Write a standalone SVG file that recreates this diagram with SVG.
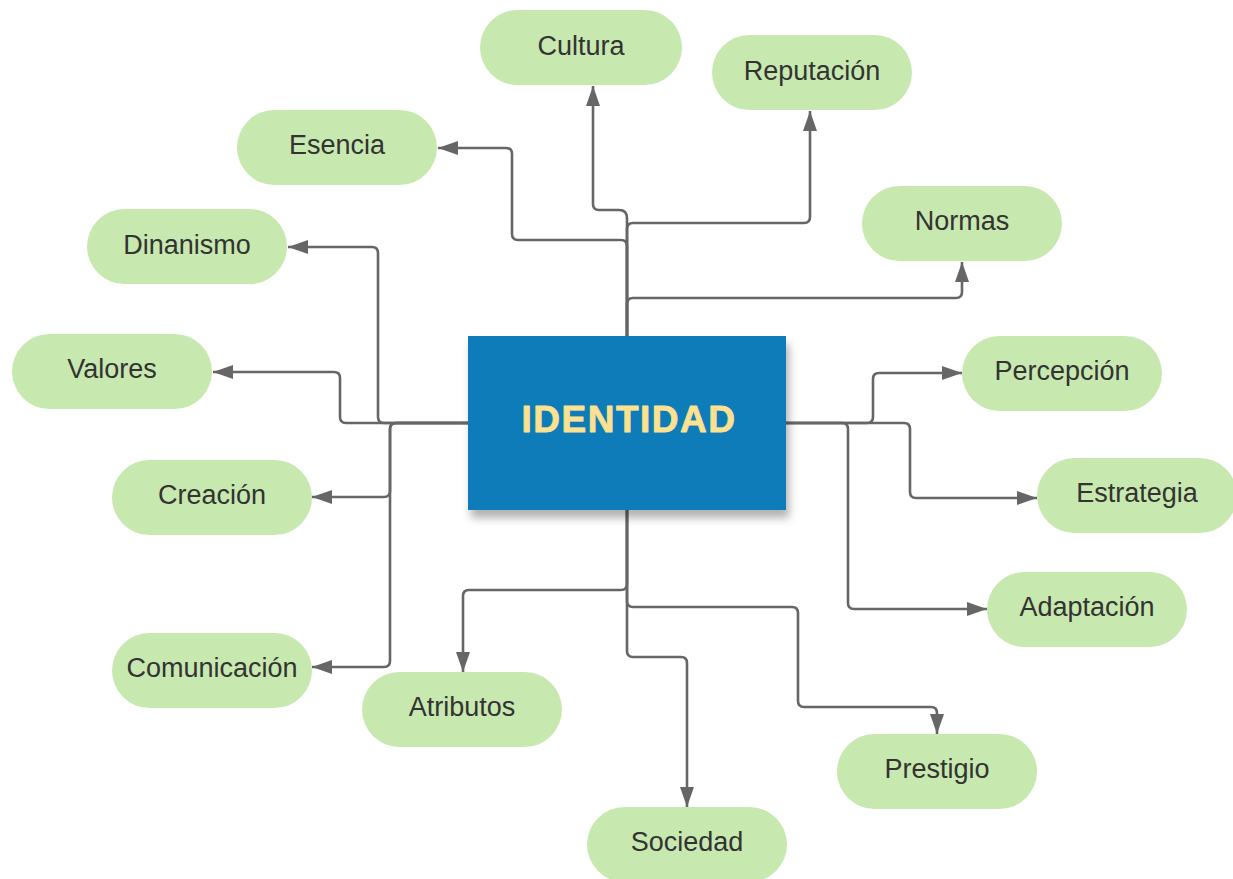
<svg xmlns="http://www.w3.org/2000/svg" width="1233" height="879" viewBox="0 0 1233 879">
  <style>
    .pill { fill: #C7E8AE; }
    .lbl { font-family: "Liberation Sans", Arial, sans-serif; font-size: 27px; fill: #333333; text-anchor: middle; }
    .conn { fill: none; stroke: #666666; stroke-width: 2.6; stroke-linejoin: round; marker-end: url(#arrow); }
    .core { fill: #0E7BB8; }
    .core-lbl { font-family: "Liberation Sans", Arial, sans-serif; font-weight: bold; font-size: 37px; fill: #FBE190; stroke: #FBE190; stroke-width: 0.8; stroke-linejoin: round; text-anchor: middle; letter-spacing: 1.5px; }
  </style>
  <defs>
    <marker id="arrow" markerUnits="userSpaceOnUse" markerWidth="22" markerHeight="16" refX="20" refY="7" orient="auto">
      <path d="M0,0 L20,7 L0,14 Z" fill="#666666"/>
    </marker>
    <filter id="shadow" x="-10%" y="-10%" width="125%" height="140%">
      <feDropShadow dx="3" dy="8" stdDeviation="4" flood-color="#000000" flood-opacity="0.3"/>
    </filter>
  </defs>
  <rect width="1233" height="879" fill="#FFFFFF"/>

  <g id="connectors">
    <!-- upward branches -->
    <path class="conn" d="M627,336 V218 Q627,210 619,210 H599 Q593,210 593,204 V86"/>
    <path class="conn" d="M627,336 V229 Q627,223 633,223 H804 Q810,223 810,217 V111"/>
    <path class="conn" d="M627,336 V246 Q627,240 621,240 H518 Q512,240 512,234 V154 Q512,148 506,148 H438"/>
    <path class="conn" d="M627,336 V304 Q627,298 633,298 H956 Q962,298 962,292 V262"/>
    <!-- left branches -->
    <path class="conn" d="M468,423 H384 Q378,423 378,417 V253 Q378,247 372,247 H288"/>
    <path class="conn" d="M468,423 H346 Q340,423 340,417 V378 Q340,372 334,372 H213"/>
    <path class="conn" d="M468,423 H396 Q390,423 390,429 V491 Q390,497 384,497 H312"/>
    <path class="conn" d="M468,423 H396 Q390,423 390,429 V661 Q390,667 384,667 H312"/>
    <!-- downward branches -->
    <path class="conn" d="M627,510 V584 Q627,590 621,590 H469 Q463,590 463,596 V672"/>
    <path class="conn" d="M627,510 V651 Q627,657 633,657 H681 Q687,657 687,663 V807"/>
    <path class="conn" d="M627,510 V601 Q627,607 633,607 H792 Q798,607 798,613 V701 Q798,707 804,707 H931 Q937,707 937,713 V734"/>
    <!-- right branches -->
    <path class="conn" d="M786,423 H867 Q873,423 873,417 V379 Q873,373 879,373 H962"/>
    <path class="conn" d="M786,423 H904 Q910,423 910,429 V492 Q910,498 916,498 H1037"/>
    <path class="conn" d="M786,423 H842 Q848,423 848,429 V603 Q848,609 854,609 H987"/>
  </g>

  <g id="identidad">
    <rect class="core" x="468" y="336" width="318" height="174" filter="url(#shadow)"/>
    <text class="core-lbl" x="629" y="432">IDENTIDAD</text>
  </g>

  <g id="cultura"><rect class="pill" x="480" y="10" width="202" height="75" rx="37.5"/><text class="lbl" x="581" y="55">Cultura</text></g>
  <g id="reputacion"><rect class="pill" x="712" y="35" width="200" height="75" rx="37.5"/><text class="lbl" x="812" y="80">Reputación</text></g>
  <g id="normas"><rect class="pill" x="862" y="186" width="200" height="75" rx="37.5"/><text class="lbl" x="962" y="230">Normas</text></g>
  <g id="percepcion"><rect class="pill" x="962" y="336" width="200" height="75" rx="37.5"/><text class="lbl" x="1062" y="380">Percepción</text></g>
  <g id="estrategia"><rect class="pill" x="1037" y="458" width="200" height="75" rx="37.5"/><text class="lbl" x="1137" y="502">Estrategia</text></g>
  <g id="adaptacion"><rect class="pill" x="987" y="572" width="200" height="75" rx="37.5"/><text class="lbl" x="1087" y="616">Adaptación</text></g>
  <g id="prestigio"><rect class="pill" x="837" y="734" width="200" height="75" rx="37.5"/><text class="lbl" x="937" y="778">Prestigio</text></g>
  <g id="sociedad"><rect class="pill" x="587" y="807" width="200" height="75" rx="37.5"/><text class="lbl" x="687" y="851">Sociedad</text></g>
  <g id="atributos"><rect class="pill" x="362" y="672" width="200" height="75" rx="37.5"/><text class="lbl" x="462" y="716">Atributos</text></g>
  <g id="comunicacion"><rect class="pill" x="112" y="633" width="200" height="75" rx="37.5"/><text class="lbl" x="212" y="677">Comunicación</text></g>
  <g id="creacion"><rect class="pill" x="112" y="460" width="200" height="75" rx="37.5"/><text class="lbl" x="212" y="504">Creación</text></g>
  <g id="valores"><rect class="pill" x="12" y="334" width="200" height="75" rx="37.5"/><text class="lbl" x="112" y="378">Valores</text></g>
  <g id="dinanismo"><rect class="pill" x="87" y="209" width="200" height="75" rx="37.5"/><text class="lbl" x="187" y="254">Dinanismo</text></g>
  <g id="esencia"><rect class="pill" x="237" y="110" width="200" height="75" rx="37.5"/><text class="lbl" x="337" y="154">Esencia</text></g>
</svg>
